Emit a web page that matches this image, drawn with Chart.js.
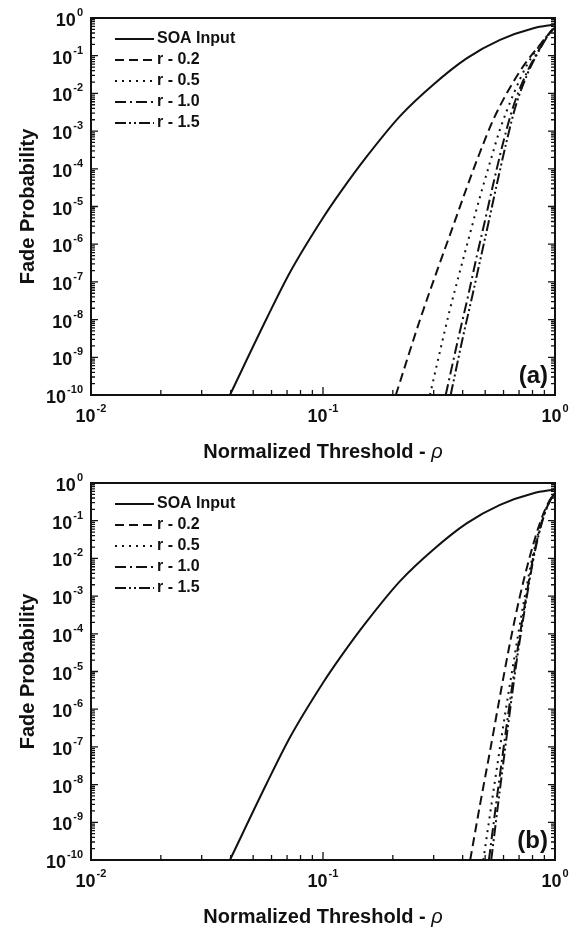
<!DOCTYPE html>
<html>
<head>
<meta charset="utf-8">
<script src="https://cdn.jsdelivr.net/npm/chart.js@4.4.1/dist/chart.umd.min.js"></script>
<style>
  html, body { margin: 0; padding: 0; background: #fff; }
  .panel { width: 580px; height: 465px; }
</style>
</head>
<body>
<div class="panel"><canvas id="chartA" width="580" height="465"></canvas></div>
<div class="panel"><canvas id="chartB" width="580" height="465"></canvas></div>
<script>
// ---- data ----
var seriesLabels = ["SOA Input", "r - 0.2", "r - 0.5", "r - 1.0", "r - 1.5"];

// SOA input (same in both panels)
var soaX = [0.0397, 0.0571, 0.0721, 0.1002, 0.1183, 0.1542, 0.2148, 0.2985, 0.4159, 0.5794, 0.8072, 1.0];
var soaY = [1e-10, 1.05e-8, 1.8e-7, 5.1e-6, 2.3e-5, 2.1e-4, 2.5e-3, 1.7e-2, 8.5e-2, 0.263, 0.537, 0.676];

// panel (a)
var r02aX = [0.206, 0.262, 0.319, 0.365, 0.416, 0.475, 0.542, 0.619, 0.729, 0.861, 0.968, 1.0];
var r02aY = [1e-10, 1e-8, 3.2e-7, 3.2e-6, 3.1e-5, 2.75e-4, 2.0e-3, 1.0e-2, 5.2e-2, 0.195, 0.468, 0.575];
var r05aX = [0.289, 0.319, 0.352, 0.390, 0.431, 0.475, 0.525, 0.579, 0.661, 0.755, 0.861, 0.955, 1.0];
var r05aY = [1e-10, 1.4e-9, 1.8e-8, 2.0e-7, 2.0e-6, 1.8e-5, 1.5e-4, 1.1e-3, 9.3e-3, 5.5e-2, 0.19, 0.427, 0.56];
var r10aX = [0.338, 0.383, 0.423, 0.459, 0.499, 0.542, 0.598, 0.661, 0.755, 0.861, 0.955, 1.0];
var r15aX = [0.355, 0.400, 0.441, 0.479, 0.519, 0.562, 0.617, 0.676, 0.764, 0.865, 0.955, 1.0];
var r1aY  = [1e-10, 3.2e-9, 4.5e-8, 4.5e-7, 4.2e-6, 4.0e-5, 5.0e-4, 4.5e-3, 3.5e-2, 0.158, 0.417, 0.56];

// panel (b)
var r02bX = [0.431, 0.475, 0.525, 0.579, 0.640, 0.706, 0.780, 0.861, 0.935, 1.0];
var r02bY = [1e-10, 2.9e-9, 7.9e-8, 2.2e-6, 5.8e-5, 1.0e-3, 1.15e-2, 8.7e-2, 0.295, 0.56];
var r05bX = [0.491, 0.542, 0.598, 0.661, 0.729, 0.807, 0.891, 0.955, 1.0];
var r10bX = [0.519, 0.566, 0.618, 0.675, 0.740, 0.813, 0.893, 0.955, 1.0];
var r15bX = [0.531, 0.577, 0.627, 0.681, 0.745, 0.817, 0.895, 0.955, 1.0];
var rbY   = [1e-10, 6.3e-9, 3.5e-7, 1.6e-5, 5.6e-4, 1.4e-2, 0.132, 0.355, 0.56];

// axis ticks (exponents of 10)
var xTickExps = [-2, -1, 0];
var yTickExps = [0, -1, -2, -3, -4, -5, -6, -7, -8, -9, -10];

// ---- styling ----
var lineDashes = [[], [9, 5], [2, 5], [11, 4, 2, 4], [11, 3, 2, 3, 2, 3]];
var FONT = "'Liberation Sans', Arial, sans-serif";

function pts(xs, ys) {
    return xs.map(function (x, i) { return { x: x, y: ys[i] }; });
}

function makeDatasets(list) {
    return list.map(function (d, i) {
        return {
            label: seriesLabels[i],
            data: pts(d[0], d[1]),
            borderColor: "#111",
            borderWidth: 2,
            borderDash: lineDashes[i],
            pointRadius: 0,
            fill: false,
            cubicInterpolationMode: "monotone"
        };
    });
}

// draws frame, inward ticks, 10^n labels, titles, legend and panel tag
var axesPlugin = {
    id: "axesPlugin",
    afterDraw: function (chart) {
        var ctx = chart.ctx, a = chart.chartArea;
        var xs = chart.scales.x, ys = chart.scales.y;
        ctx.save();
        ctx.strokeStyle = "#111";
        ctx.fillStyle = "#111";
        ctx.lineWidth = 2;
        ctx.strokeRect(a.left, a.top, a.right - a.left, a.bottom - a.top);

        ctx.lineWidth = 1.3;
        ctx.beginPath();
        // y ticks, left and right, pointing in
        yTickExps.forEach(function (e) {
            var py = ys.getPixelForValue(Math.pow(10, e));
            ctx.moveTo(a.left, py); ctx.lineTo(a.left + 7, py);
            ctx.moveTo(a.right, py); ctx.lineTo(a.right - 7, py);
            if (e < 0) {
                for (var k = 2; k <= 9; k++) {
                    var my = ys.getPixelForValue(k * Math.pow(10, e));
                    ctx.moveTo(a.left, my); ctx.lineTo(a.left + 4, my);
                    ctx.moveTo(a.right, my); ctx.lineTo(a.right - 4, my);
                }
            }
        });
        // x ticks on bottom, pointing up
        xTickExps.forEach(function (e) {
            var px = xs.getPixelForValue(Math.pow(10, e));
            ctx.moveTo(px, a.bottom); ctx.lineTo(px, a.bottom - 8);
            if (e < 0) {
                for (var k = 2; k <= 9; k++) {
                    var mx = xs.getPixelForValue(k * Math.pow(10, e));
                    ctx.moveTo(mx, a.bottom); ctx.lineTo(mx, a.bottom - 5);
                }
            }
        });
        ctx.stroke();

        var baseFont = "bold 18px " + FONT, expFont = "bold 11px " + FONT;
        ctx.textBaseline = "alphabetic";
        ctx.textAlign = "left";
        // y labels, right aligned
        yTickExps.forEach(function (e) {
            var py = ys.getPixelForValue(Math.pow(10, e));
            ctx.font = expFont;
            var ew = ctx.measureText(String(e)).width;
            ctx.font = baseFont;
            var bw = ctx.measureText("10").width;
            var right = a.left - 8;
            ctx.fillText("10", right - ew - bw - 1, py + 8);
            ctx.font = expFont;
            ctx.fillText(String(e), right - ew, py - 2);
        });
        // x labels, centred
        xTickExps.forEach(function (e) {
            var px = xs.getPixelForValue(Math.pow(10, e));
            ctx.font = expFont;
            var ew = ctx.measureText(String(e)).width;
            ctx.font = baseFont;
            var bw = ctx.measureText("10").width;
            var left = px - (bw + ew + 1) / 2;
            ctx.fillText("10", left, a.bottom + 27);
            ctx.font = expFont;
            ctx.fillText(String(e), left + bw + 1, a.bottom + 17);
        });

        // x title with italic rho
        var t1 = "Normalized Threshold - ";
        ctx.font = "bold 20px " + FONT;
        var w1 = ctx.measureText(t1).width;
        ctx.font = "italic 20px " + FONT;
        var w2 = ctx.measureText("\u03c1").width;
        var cx = (a.left + a.right) / 2, tx = cx - (w1 + w2) / 2;
        ctx.font = "bold 20px " + FONT;
        ctx.fillText(t1, tx, a.bottom + 63);
        ctx.font = "italic 20px " + FONT;
        ctx.fillText("\u03c1", tx + w1, a.bottom + 63);

        // y title
        ctx.save();
        ctx.translate(34, (a.top + a.bottom) / 2);
        ctx.rotate(-Math.PI / 2);
        ctx.textAlign = "center";
        ctx.font = "bold 20px " + FONT;
        ctx.fillText("Fade Probability", 0, 0);
        ctx.restore();

        // legend
        ctx.font = "bold 16px " + FONT;
        ctx.textBaseline = "middle";
        chart.data.datasets.forEach(function (ds, i) {
            var ly = a.top + 21 + i * 21;
            ctx.beginPath();
            ctx.lineWidth = 2;
            ctx.setLineDash(ds.borderDash);
            ctx.moveTo(a.left + 24, ly);
            ctx.lineTo(a.left + 63, ly);
            ctx.stroke();
            ctx.setLineDash([]);
            ctx.fillText(ds.label, a.left + 66, ly);
        });

        // panel tag
        ctx.font = "bold 24px " + FONT;
        ctx.textAlign = "right";
        ctx.textBaseline = "alphabetic";
        ctx.fillText(chart.options.plugins.panelTag, a.right - 7, a.bottom - 12);
        ctx.restore();
    }
};

function makePanel(id, datasets, tag) {
    return new Chart(document.getElementById(id).getContext("2d"), {
        type: "line",
        data: { datasets: datasets },
        options: {
            responsive: false,
            animation: false,
            layout: { padding: { left: 91, right: 25, top: 18, bottom: 70 } },
            scales: {
                x: { type: "logarithmic", min: 0.01, max: 1, display: false },
                y: { type: "logarithmic", min: 1e-10, max: 1, display: false }
            },
            plugins: {
                legend: { display: false },
                tooltip: { enabled: false },
                panelTag: tag
            }
        },
        plugins: [axesPlugin]
    });
}

makePanel("chartA", makeDatasets([
    [soaX, soaY], [r02aX, r02aY], [r05aX, r05aY], [r10aX, r1aY], [r15aX, r1aY]
]), "(a)");

makePanel("chartB", makeDatasets([
    [soaX, soaY], [r02bX, r02bY], [r05bX, rbY], [r10bX, rbY], [r15bX, rbY]
]), "(b)");
</script>
</body>
</html>
